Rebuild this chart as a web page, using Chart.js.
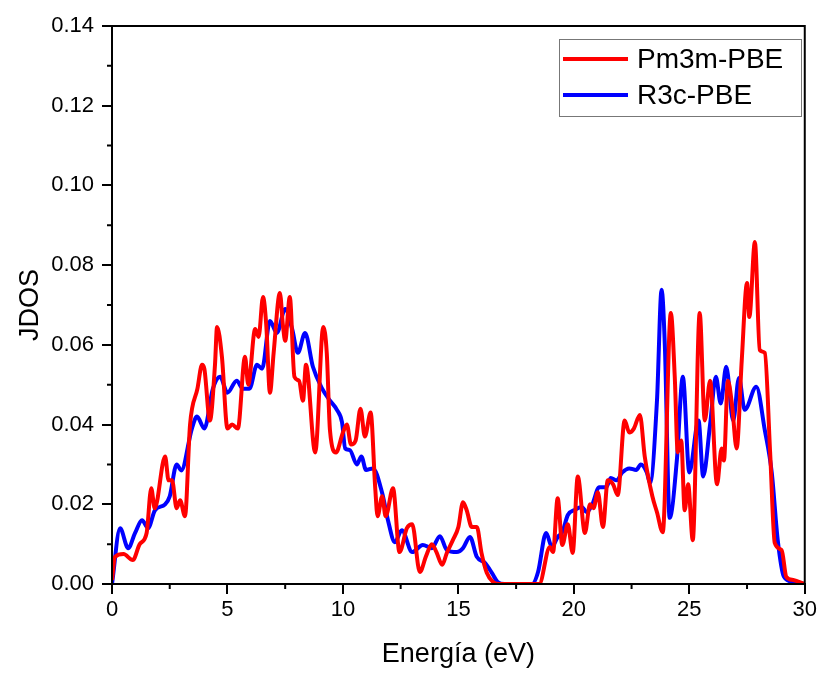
<!DOCTYPE html>
<html>
<head>
<meta charset="utf-8">
<script src="https://cdn.jsdelivr.net/npm/chart.js@4.4.1/dist/chart.umd.min.js"></script>
<style>
  html, body { margin: 0; padding: 0; background: #fff; }
  #wrap { width: 820px; height: 673px; }
</style>
</head>
<body>
<div id="wrap"><canvas id="jdosChart" width="820" height="673"></canvas></div>
<script>
// ─── Data ──────────────────────────────────────────────
var seriesNames = ['Pm3m-PBE', 'R3c-PBE'];
var seriesColors = ['#ff0000', '#0000ff'];

var xTicks = [0, 5, 10, 15, 20, 25, 30];
var yTicks = [0, 0.02, 0.04, 0.06, 0.08, 0.10, 0.12, 0.14];

var pm3mEnergy = [0, 0.13, 0.5, 0.9, 1.2, 1.5, 1.7, 1.85, 2.3, 2.45, 2.6, 2.8, 2.95, 3.16, 3.38, 3.7, 3.9, 4.0, 4.24, 4.46,
  4.55, 4.76, 5.0, 5.2, 5.45, 5.76, 5.9, 6.2, 6.35, 6.54, 6.68, 6.84, 7.0, 7.27, 7.4, 7.5, 7.7, 7.9, 8.1, 8.27,
  8.4, 8.8, 9.15, 9.3, 9.44, 9.7, 10.0, 10.17, 10.35, 10.55, 10.76, 10.95, 11.2, 11.4, 11.5, 11.7, 11.85, 12.17, 12.45, 12.77,
  13.0, 13.33, 13.6, 13.85, 14.05, 14.3, 14.5, 14.76, 15.0, 15.2, 15.36, 15.58, 15.8, 16.0, 16.23, 16.5, 16.8, 18.5, 18.96, 19.1,
  19.3, 19.5, 19.74, 19.95, 20.17, 20.48, 20.7, 20.85, 21.04, 21.26, 21.47, 21.7, 21.9, 22.2, 22.4, 22.6, 22.86, 23.07, 23.4, 23.6,
  23.85, 24.2, 24.37, 24.5, 24.65, 24.8, 24.95, 25.15, 25.45, 25.67, 25.9, 26.2, 26.4, 26.5, 26.67, 26.85, 27.05, 27.27, 27.5, 27.6,
  27.84, 28.05, 28.27, 28.5, 28.7, 29.0, 29.2, 29.5, 30];
var pm3mJdos = [0.001, 0.0068, 0.0075, 0.006, 0.010, 0.0128, 0.024, 0.019, 0.032, 0.026, 0.026, 0.019, 0.021, 0.017, 0.040, 0.049, 0.055, 0.054, 0.041, 0.055,
  0.0645, 0.057, 0.039, 0.040, 0.039, 0.057, 0.050, 0.064, 0.062, 0.072, 0.065, 0.048, 0.058, 0.073, 0.065, 0.061, 0.072, 0.052, 0.051, 0.046,
  0.055, 0.033, 0.0645, 0.058, 0.0385, 0.033, 0.038, 0.040, 0.035, 0.036, 0.044, 0.037, 0.043, 0.024, 0.017, 0.022, 0.017, 0.024, 0.008, 0.014,
  0.015, 0.003, 0.007, 0.010, 0.008, 0.0048, 0.0078, 0.011, 0.0143, 0.0205, 0.0185, 0.0143, 0.0143, 0.0078, 0.0028, 0.0005, 0, 0, 0.0093, 0.008,
  0.0215, 0.0098, 0.015, 0.0078, 0.027, 0.0128, 0.020, 0.019, 0.023, 0.0143, 0.026, 0.025, 0.0223, 0.041, 0.038, 0.039, 0.0424, 0.032, 0.022, 0.018,
  0.013, 0.068, 0.052, 0.033, 0.036, 0.0185, 0.025, 0.011, 0.068, 0.041, 0.051, 0.025, 0.034, 0.031, 0.051, 0.045, 0.034, 0.056, 0.0755, 0.067,
  0.0858, 0.0587, 0.058, 0.033, 0.0103, 0.0085, 0.0018, 0.001, 0];

var r3cEnergy = [0, 0.35, 0.7, 1.0, 1.3, 1.56, 1.86, 2.3, 2.5, 2.8, 3.0, 3.46, 3.68, 4.0, 4.37, 4.68, 5.0, 5.4, 5.67, 5.95,
  6.28, 6.5, 6.84, 7.14, 7.5, 7.8, 8.05, 8.36, 8.7, 9.1, 9.44, 9.74, 9.96, 10.1, 10.3, 10.6, 10.8, 11.0, 11.3, 11.7,
  11.95, 12.25, 12.55, 13.0, 13.46, 13.85, 14.2, 14.5, 14.93, 15.2, 15.5, 15.8, 16.15, 16.45, 16.7, 17.0, 18.2, 18.45, 18.8, 19.05,
  19.3, 19.5, 19.74, 20.04, 20.35, 20.56, 20.8, 21.1, 21.4, 21.6, 21.85, 22.1, 22.4, 22.7, 22.9, 23.16, 23.3, 23.6, 23.8, 23.94,
  24.15, 24.46, 24.72, 25.0, 25.4, 25.6, 25.9, 26.15, 26.36, 26.6, 26.9, 27.15, 27.4, 27.9, 28.27, 28.57, 28.83, 29.1, 29.5, 30];
var r3cJdos = [0, 0.014, 0.009, 0.0128, 0.016, 0.014, 0.0185, 0.020, 0.022, 0.030, 0.0285, 0.039, 0.042, 0.039, 0.049, 0.052, 0.048, 0.051, 0.049, 0.049,
  0.055, 0.054, 0.066, 0.063, 0.069, 0.064, 0.058, 0.063, 0.0545, 0.049, 0.046, 0.0437, 0.0406, 0.034, 0.0336, 0.030, 0.032, 0.0286, 0.029, 0.0228,
  0.016, 0.0105, 0.0135, 0.008, 0.0098, 0.009, 0.012, 0.0085, 0.008, 0.009, 0.0118, 0.0068, 0.0053, 0.0028, 0.0005, 0, 0, 0.003, 0.0128, 0.0093,
  0.0118, 0.013, 0.0173, 0.0186, 0.0193, 0.018, 0.020, 0.0243, 0.0243, 0.0266, 0.026, 0.028, 0.029, 0.0286, 0.030, 0.028, 0.0253, 0.046, 0.0738, 0.060,
  0.0166, 0.031, 0.052, 0.028, 0.041, 0.027, 0.040, 0.052, 0.0453, 0.0545, 0.041, 0.0517, 0.0437, 0.0495, 0.0386, 0.028, 0.011, 0.0018, 0.0005, 0];

// ─── Helpers ───────────────────────────────────────────
function toPoints(xs, ys) {
  return xs.map(function (x, i) { return { x: x, y: ys[i] }; });
}

var FONT = 'Arial, "Liberation Sans", sans-serif';

// frame, minor ticks and inside legend
var framePlugin = {
  id: 'frame',
  afterDraw: function (chart) {
    var ctx = chart.ctx;
    var a = chart.chartArea;
    var xs = chart.scales.x;
    var ys = chart.scales.y;
    ctx.save();
    ctx.strokeStyle = '#000';
    ctx.lineWidth = 2;
    ctx.strokeRect(a.left, a.top, a.right - a.left, a.bottom - a.top);

    // minor ticks
    ctx.beginPath();
    for (var i = 0; i < xTicks.length - 1; i++) {
      var mx = xs.getPixelForValue((xTicks[i] + xTicks[i + 1]) / 2);
      ctx.moveTo(mx, a.bottom);
      ctx.lineTo(mx, a.bottom + 5);
    }
    for (var j = 0; j < yTicks.length - 1; j++) {
      var my = ys.getPixelForValue((yTicks[j] + yTicks[j + 1]) / 2);
      ctx.moveTo(a.left, my);
      ctx.lineTo(a.left - 5, my);
    }
    ctx.stroke();

    // legend box
    var bx = 559, by = 39, bw = 242, bh = 77;
    ctx.lineWidth = 1;
    ctx.strokeStyle = '#777';
    ctx.strokeRect(bx + 0.5, by + 0.5, bw, bh);
    ctx.font = '28px ' + FONT;
    ctx.textBaseline = 'middle';
    ctx.textAlign = 'left';
    chart.data.datasets.forEach(function (ds, k) {
      var ly = by + 20 + k * 36;
      ctx.strokeStyle = ds.borderColor;
      ctx.lineWidth = 4;
      ctx.beginPath();
      ctx.moveTo(bx + 4, ly);
      ctx.lineTo(bx + 69, ly);
      ctx.stroke();
      ctx.fillStyle = '#000';
      ctx.fillText(ds.label, bx + 78, ly + 1);
    });
    ctx.restore();
  }
};

// ─── Chart ────────────────────────────────────────────
var ctx = document.getElementById('jdosChart');
new Chart(ctx, {
  type: 'line',
  data: {
    datasets: [
      {
        label: seriesNames[0],
        data: toPoints(pm3mEnergy, pm3mJdos),
        borderColor: seriesColors[0],
        borderWidth: 4,
        pointRadius: 0,
        cubicInterpolationMode: 'monotone',
        fill: false
      },
      {
        label: seriesNames[1],
        data: toPoints(r3cEnergy, r3cJdos),
        borderColor: seriesColors[1],
        borderWidth: 4,
        pointRadius: 0,
        cubicInterpolationMode: 'monotone',
        fill: false
      }
    ]
  },
  options: {
    responsive: false,
    animation: false,
    events: [],
    layout: { padding: { top: 26, right: 15, left: 0, bottom: 0 } },
    plugins: {
      legend: { display: false },
      tooltip: { enabled: false }
    },
    scales: {
      x: {
        type: 'linear',
        min: 0,
        max: 30,
        afterBuildTicks: function (scale) {
          scale.ticks = xTicks.map(function (v) { return { value: v }; });
        },
        afterFit: function (scale) { scale.height = 89; },
        ticks: { color: '#000', font: { size: 22, family: FONT }, padding: 3, maxRotation: 0 },
        grid: { drawOnChartArea: false, tickLength: 10, color: '#000', lineWidth: 2 },
        border: { display: true, color: '#000', width: 2 },
        title: { display: true, text: 'Energía (eV)', color: '#000', font: { size: 27, family: FONT }, padding: { top: 0, bottom: 2 } }
      },
      y: {
        type: 'linear',
        min: 0,
        max: 0.14,
        afterBuildTicks: function (scale) {
          scale.ticks = yTicks.map(function (v) { return { value: v }; });
        },
        afterFit: function (scale) { scale.width = 112; },
        ticks: {
          color: '#000',
          font: { size: 22, family: FONT },
          padding: 8,
          callback: function (v) { return Number(v).toFixed(2); }
        },
        grid: { drawOnChartArea: false, tickLength: 10, color: '#000', lineWidth: 2 },
        border: { display: true, color: '#000', width: 2 },
        title: { display: true, text: 'JDOS', color: '#000', font: { size: 27, family: FONT }, padding: { top: 14, bottom: 0 } }
      }
    }
  },
  plugins: [framePlugin]
});
</script>
</body>
</html>
